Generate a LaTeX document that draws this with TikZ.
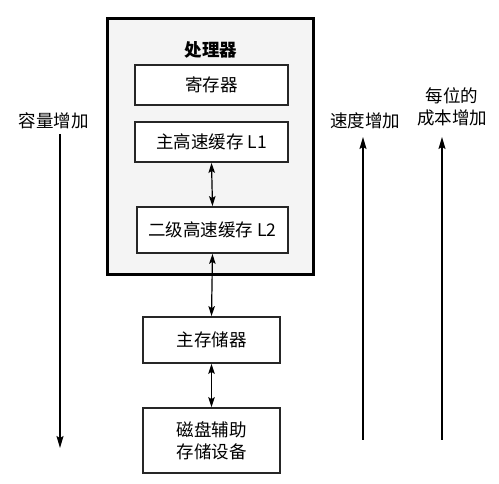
\documentclass[tikz,border=0pt]{standalone}
\usepackage{fontspec}
\setmainfont{Liberation Serif}
\newfontfamily\cjk{Noto Sans CJK SC}
\usetikzlibrary{arrows.meta}
\begin{document}
\begin{tikzpicture}[x=1pt,y=-1pt,
  box/.style={draw=black!85,line width=1.8pt,fill=white,minimum height=40pt,inner sep=2pt,font=\cjk\fontsize{17.5}{22}\selectfont,align=center},
  lbl/.style={font=\cjk\fontsize{17.5}{22}\selectfont,align=center,inner sep=1pt},
  arr/.style={line width=1.2pt,-{Stealth[length=12pt,width=7pt,inset=2pt]}},
  darr/.style={line width=1.2pt,{Stealth[length=10pt,width=6.5pt,inset=2pt]}-{Stealth[length=10pt,width=6.5pt,inset=2pt]}}]
\useasboundingbox (0,0) rectangle (499,484);
% processor frame
\node[draw=black,line width=3pt,fill=gray!9,minimum width=206pt,minimum height=256pt,inner sep=0pt] (cpu) at (210,147) {};
\node[font=\cjk\bfseries\fontsize{17.5}{22}\selectfont] (cpulbl) at (211,50) {处理器};
\node[box,minimum width=153pt] (reg) at (211.5,85) {寄存器};
\node[box,minimum width=153pt] (l1) at (211.5,142) {主高速缓存 L1};
\node[box,minimum width=151pt,minimum height=46pt] (l2) at (212.5,230) {二级高速缓存 L2};
\node[box,minimum width=137pt,minimum height=46pt] (mem) at (211.5,340) {主存储器};
\node[box,minimum width=137pt,minimum height=65pt] (disk) at (211.5,440.5) {磁盘辅助\\存储设备};
\draw[darr] (l1.south) -- (l2.north);
\draw[darr] (l2.south) -- (mem.north);
\draw[darr] (mem.south) -- (disk.north);
% side labels and arrows
\node[lbl] (cap) at (54,121) {容量增加};
\coordinate (capstart) at (60,134);
\coordinate (capend) at (60,448);
\draw[arr] (capstart) -- (capend);
\node[lbl] (spd) at (365,121) {速度增加};
\coordinate (spdstart) at (363,440);
\coordinate (spdend) at (363,137);
\draw[arr] (spdstart) -- (spdend);
\node[lbl] (cost) at (452,107) {每位的\\成本增加};
\coordinate (coststart) at (442,440);
\coordinate (costend) at (442,137);
\draw[arr] (coststart) -- (costend);
\end{tikzpicture}
\end{document}
